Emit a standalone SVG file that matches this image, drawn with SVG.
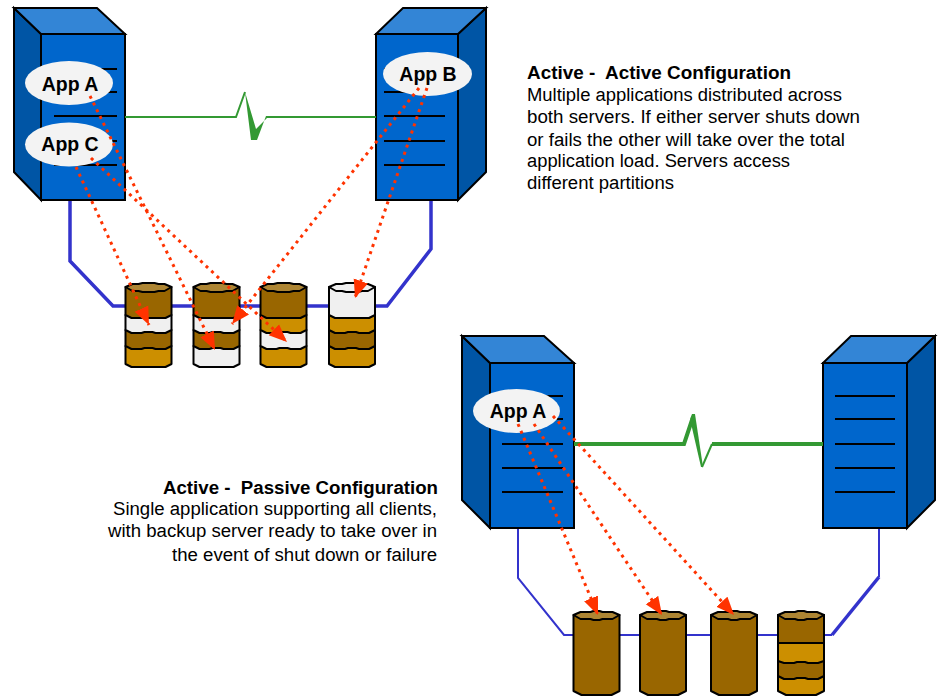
<svg xmlns="http://www.w3.org/2000/svg" width="943" height="696" viewBox="0 0 943 696">
<style>
text{font-family:"Liberation Sans",Arial,sans-serif;fill:#000;white-space:pre}
.d{font-size:18px}
.t{font-size:18px;font-weight:bold}
.app{font-size:19.5px;font-weight:bold;text-anchor:middle}
.front{fill:#0066cc;stroke:#000;stroke-width:2}
.side{fill:#0055a5;stroke:#000;stroke-width:2}
.top{fill:#3385d6;stroke:#000;stroke-width:2}
.rule{stroke:#000;stroke-width:2;fill:none}
.oval{fill:#f3f3f3}
.wire{fill:none;stroke:#3333cc;stroke-width:3.5}
.thin{stroke-width:2}
.link{fill:none;stroke:#339933}
.peak{fill:#339933;stroke:none}
.dot{fill:none;stroke:#ff3300;stroke-width:3;stroke-dasharray:3 4.5;marker-end:url(#head)}
.b{fill:#996600}.g{fill:#cc8f00}.w{fill:#f0f0f0}.c{fill:#ad8533}
.s{stroke:#000;stroke-width:2;stroke-linejoin:round}
</style>
<defs>
<marker id="head" markerUnits="userSpaceOnUse" markerWidth="20" markerHeight="18" refX="18" refY="8" orient="auto"><path d="M0 0.500L18 8L0 15.500Z" fill="#ff3300"/></marker>
<path id="cap" d="M0 4L7 1L13 1L17 0L29 0L33 1L39 1L46 4L39 8L33 8L29 9L17 9L13 8L7 8Z"/>
<path id="capb" d="M0 4L7 1L17 1L20 0L26 0L29 1L39 1L46 4L39 8L29 8L26 9L20 9L17 8L7 8Z"/>
<path id="s28" d="M0 0V28L6 31H40L46 28V0Z"/>
<path id="s15" d="M0 0V15L6 18H16L19 17H27L30 18H40L46 15V0Z"/>
<path id="s16" d="M0 0V16L6 19H16L19 18H27L30 19H40L46 16V0Z"/>
<path id="s18" d="M0 0V18L6 21H40L46 18V0Z"/>
<path id="body" d="M0 0V76L8 80H38L46 76V0Z"/>
</defs>

<g id="connectors-under">
<path class="wire" d="M70 200V261L113 306H387L431 249V200"/>
<path class="wire thin" d="M518 528V578L564 635H832"/>
<path class="wire" d="M832 635L879 577"/>
<path class="wire thin" d="M879 577V528"/>
</g>

<g id="server-1">
<path class="side" d="M14 8L41 34V200L14 172Z"/><path class="top" d="M14 8H97L125 34H41Z"/><rect class="front" x="41" y="34" width="84" height="166"/>
<path class="rule" d="M54 69H117M54 92H117M54 116H117M54 141H117M54 165H117"/>
</g>
<g id="server-2">
<path class="side" d="M458 34L486 8V172L458 200Z"/><path class="top" d="M376 34L403 8H486L458 34Z"/><rect class="front" x="376" y="34" width="82" height="166"/>
<path class="rule" d="M384 69H445M384 92H445M384 116H445M384 141H445M384 165H445"/>
</g>
<g id="server-3">
<path class="side" d="M462 336L490 363V528L462 500Z"/><path class="top" d="M462 336H544L574 363H490Z"/><rect class="front" x="490" y="363" width="84" height="165"/>
<path class="rule" d="M502 396H563M502 419H563M502 444H563M502 468H563M502 492H563"/>
</g>
<g id="server-4">
<path class="side" d="M907 363L935 336V500L907 528Z"/><path class="top" d="M823 363L851 336H935L907 363Z"/><rect class="front" x="823" y="363" width="84" height="165"/>
<path class="rule" d="M835 396H895M835 419H895M835 444H895M835 468H895M835 492H895"/>
</g>

<g id="link-1"><path class="link" stroke-width="2" d="M125 117H236L245 92"/><path class="peak" d="M245 92L251 140H257L266 116H376V118H267L256 129Z"/></g>
<g id="link-2"><path class="link" stroke-width="4" d="M574 444H684L692 420"/><path class="peak" d="M690 419L692 414H695L703 467H701Z"/><path class="link" stroke-width="2" d="M702 467L712 444"/><path class="link" stroke-width="4" d="M712 444H823"/></g>

<g id="app-a"><ellipse class="oval" cx="69" cy="83" rx="44" ry="22"/><text class="app" x="70" y="91">App A</text></g>
<g id="app-c"><ellipse class="oval" cx="69" cy="144.500" rx="44" ry="22"/><text class="app" x="70" y="151">App C</text></g>
<g id="app-b"><ellipse class="oval" cx="427.500" cy="74" rx="44.500" ry="22"/><text class="app" x="428" y="81">App B</text></g>
<g id="app-a2"><ellipse class="oval" cx="516.500" cy="411" rx="43.500" ry="22"/><text class="app" x="518" y="418">App A</text></g>

<g id="disk-1" transform="translate(125.500 287)"><use href="#s18" y="59" class="g s"/><use href="#s16" y="43" class="b s"/><use href="#s15" y="28" class="w s"/><use href="#s28" class="b s"/><use href="#cap" y="-4" class="c s"/></g>
<g id="disk-2" transform="translate(193.500 287)"><use href="#s18" y="59" class="w s"/><use href="#s16" y="43" class="b s"/><use href="#s15" y="28" class="w s"/><use href="#s28" class="b s"/><use href="#cap" y="-4" class="c s"/></g>
<g id="disk-3" transform="translate(260.500 287)"><use href="#s18" y="59" class="g s"/><use href="#s16" y="43" class="w s"/><use href="#s15" y="28" class="g s"/><use href="#s28" class="b s"/><use href="#cap" y="-4" class="c s"/></g>
<g id="disk-4" transform="translate(329 287)"><use href="#s18" y="59" class="g s"/><use href="#s16" y="43" class="b s"/><use href="#s15" y="28" class="g s"/><use href="#s28" class="w s"/><use href="#cap" y="-4" class="w s"/></g>

<g id="disk-5" transform="translate(573.500 615)"><use href="#body" class="b s"/><use href="#capb" y="-4" class="c s"/></g>
<g id="disk-6" transform="translate(640 615)"><use href="#body" class="b s"/><use href="#capb" y="-4" class="c s"/></g>
<g id="disk-7" transform="translate(711 615)"><use href="#body" class="b s"/><use href="#capb" y="-4" class="c s"/></g>
<g id="disk-8" transform="translate(778 615)"><use href="#body" class="g s"/><path class="b s" d="M0 44V61L6 64H16L19 63H27L30 64H40L46 61V44Z"/><path class="g s" d="M0 28V46L6 48H16L19 47H27L30 48H40L46 46V28Z"/><path class="b s" d="M0 0V28H46V0Z"/><use href="#capb" y="-4" class="c s"/></g>

<g id="connectors-over">
<path class="dot" d="M90 96L215 350"/>
<path class="dot" d="M76 167L149 325"/>
<path class="dot" d="M91 158L287 342"/>
<path class="dot" d="M419 88L232 324"/>
<path class="dot" d="M427 88L355 298"/>
<path class="dot" d="M518 424L598 615"/>
<path class="dot" d="M534 424L662 615"/>
<path class="dot" d="M553 416L734 615"/>
</g>

<g id="caption-active">
<text class="t" x="527" y="79" textLength="264" lengthAdjust="spacingAndGlyphs">Active -  Active Configuration</text>
<text class="d" x="527" y="101" textLength="315" lengthAdjust="spacingAndGlyphs">Multiple applications distributed across</text>
<text class="d" x="527" y="123" textLength="333" lengthAdjust="spacingAndGlyphs">both servers. If either server shuts down</text>
<text class="d" x="527" y="146" textLength="318" lengthAdjust="spacingAndGlyphs">or fails the other will take over the total</text>
<text class="d" x="527" y="167" textLength="263" lengthAdjust="spacingAndGlyphs">application load. Servers access</text>
<text class="d" x="527" y="189" textLength="147" lengthAdjust="spacingAndGlyphs">different partitions</text>
</g>
<g id="caption-passive">
<text class="t" x="163" y="494" textLength="275" lengthAdjust="spacingAndGlyphs">Active -  Passive Configuration</text>
<text class="d" x="113" y="515" textLength="324" lengthAdjust="spacingAndGlyphs">Single application supporting all clients,</text>
<text class="d" x="108" y="537" textLength="329" lengthAdjust="spacingAndGlyphs">with backup server ready to take over in</text>
<text class="d" x="172" y="561" textLength="265" lengthAdjust="spacingAndGlyphs">the event of shut down or failure</text>
</g>
</svg>
